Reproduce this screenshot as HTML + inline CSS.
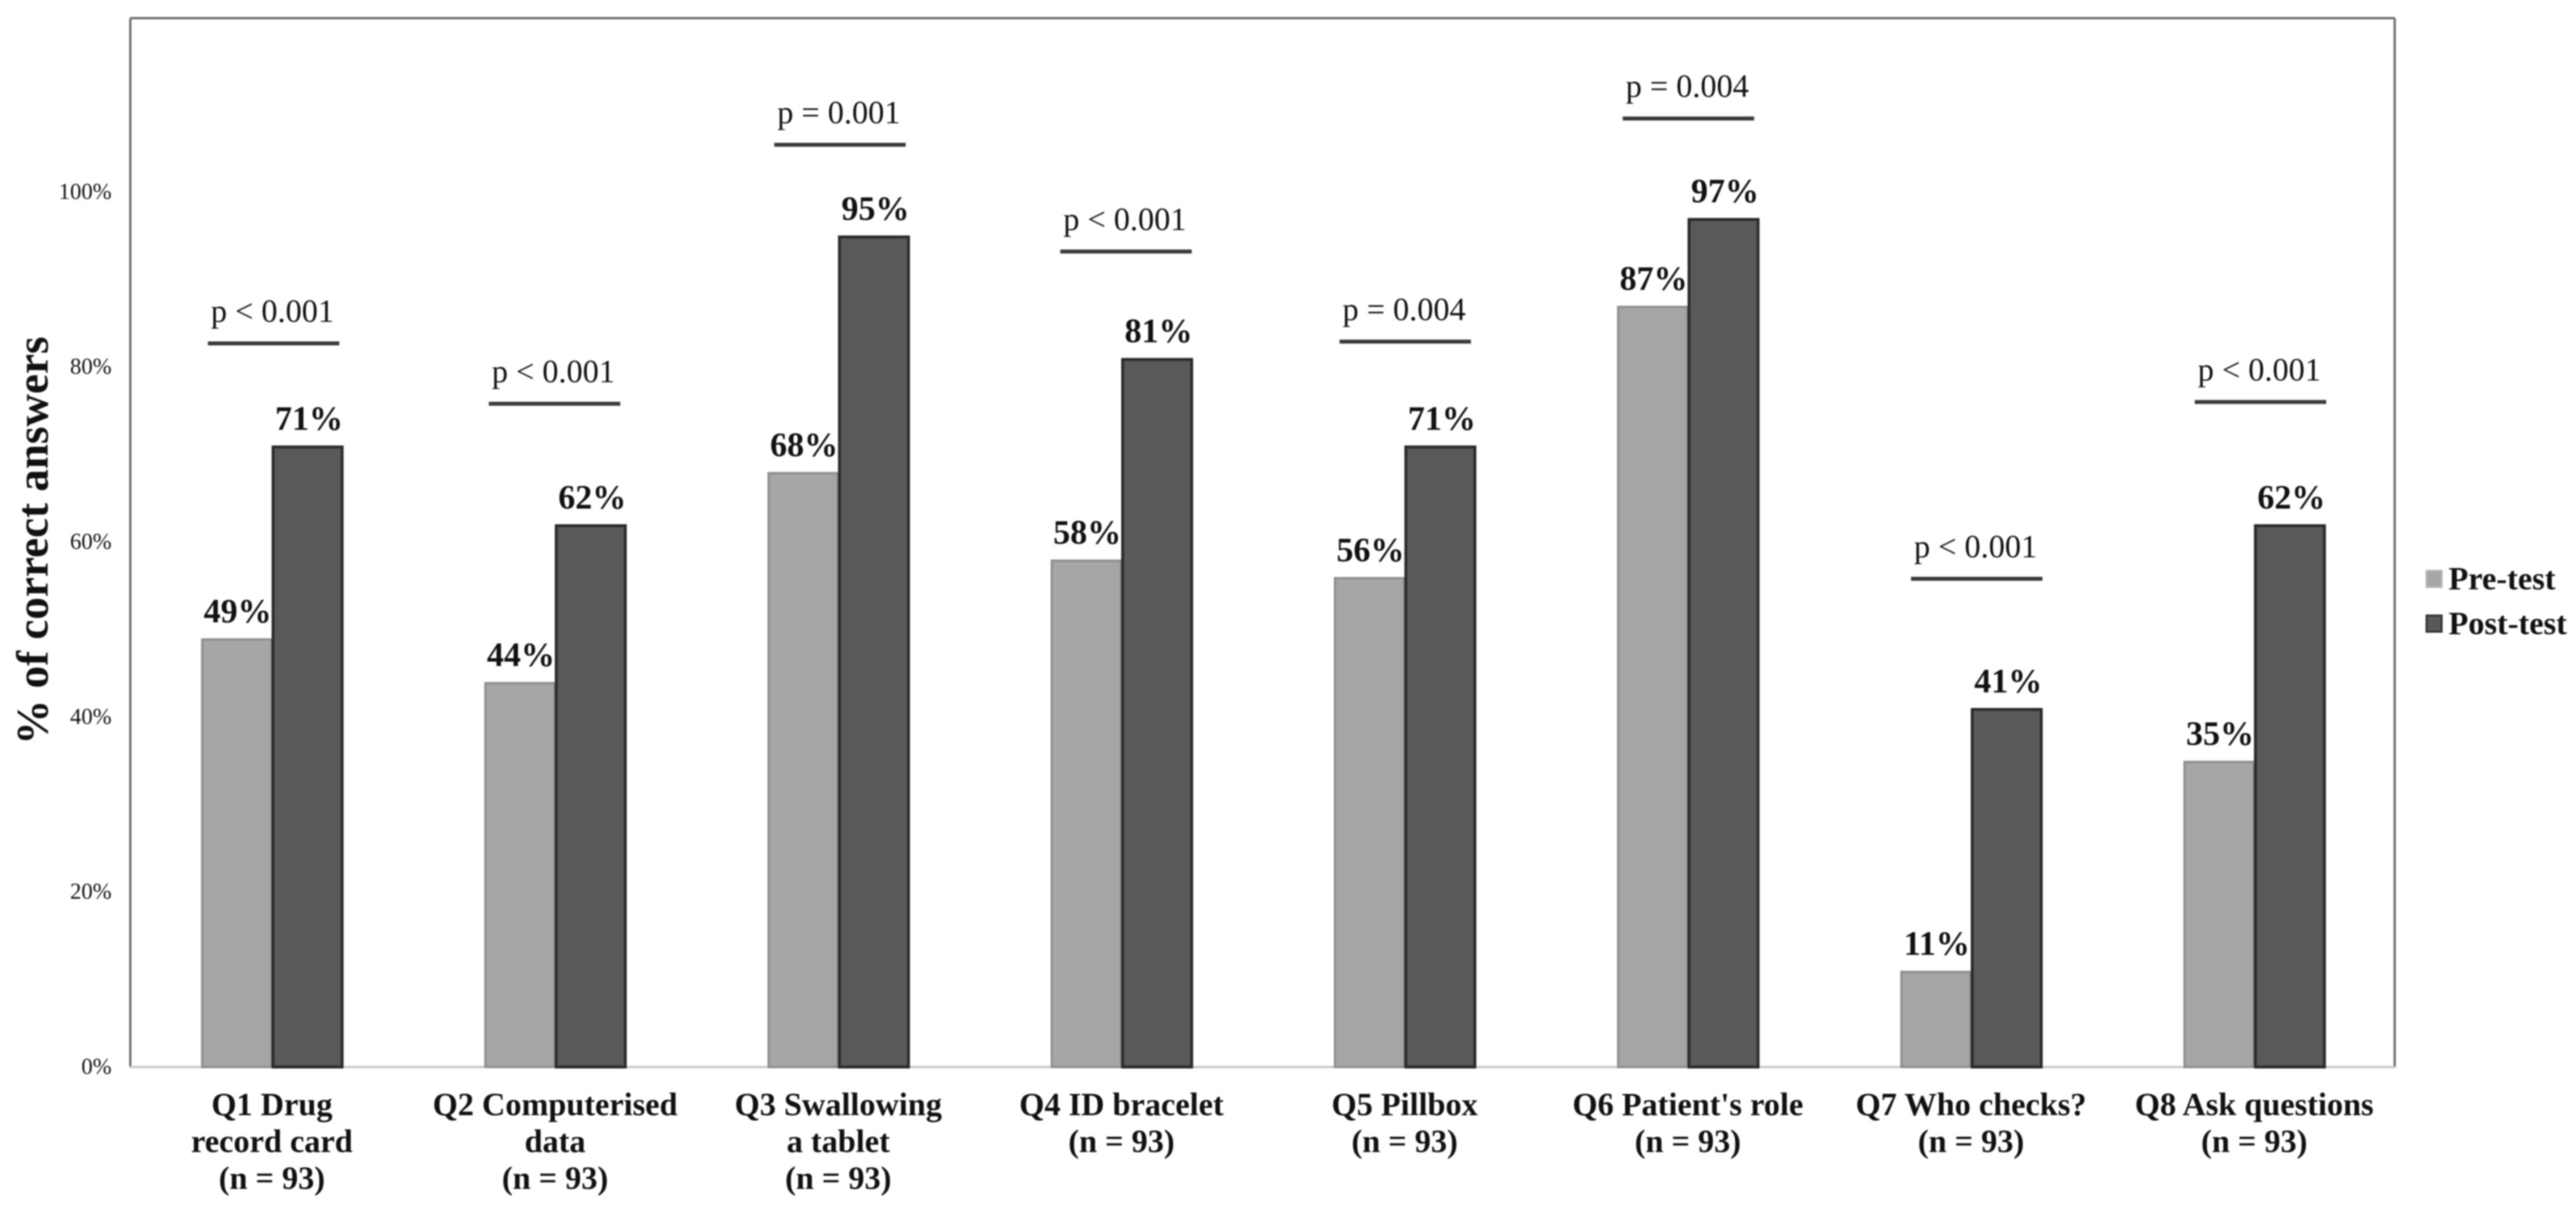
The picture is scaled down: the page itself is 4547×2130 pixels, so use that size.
<!DOCTYPE html>
<html>
<head>
<meta charset="utf-8">
<title>Correct answers pre-test and post-test</title>
<style>
html,body{margin:0;padding:0;background:#fff;width:4547px;height:2130px;overflow:hidden}
svg{display:block;filter:blur(1.2px)}
text{font-family:"Liberation Serif",serif;fill:#111}
</style>
</head>
<body>
<svg id="chart" xmlns="http://www.w3.org/2000/svg" width="4547" height="2130" viewBox="0 0 4547 2130"></svg>
<script>
const categories = [
  ["Q1 Drug", "record card", "(n = 93)"],
  ["Q2 Computerised", "data", "(n = 93)"],
  ["Q3 Swallowing", "a tablet", "(n = 93)"],
  ["Q4 ID bracelet", "(n = 93)"],
  ["Q5 Pillbox", "(n = 93)"],
  ["Q6 Patient's role", "(n = 93)"],
  ["Q7 Who checks?", "(n = 93)"],
  ["Q8 Ask questions", "(n = 93)"]
];
const preTest = [49, 44, 68, 58, 56, 87, 11, 35];
const postTest = [71, 62, 95, 81, 71, 97, 41, 62];
const pLabels = ["p < 0.001", "p < 0.001", "p = 0.001", "p < 0.001", "p = 0.004", "p = 0.004", "p < 0.001", "p < 0.001"];
const pLevels = [82.7, 75.8, 105.4, 93.2, 82.9, 108.4, 55.8, 76];
const yTicks = [0, 20, 40, 60, 80, 100];
const yMax = 120;

const NS = "http://www.w3.org/2000/svg";
const svg = document.getElementById("chart");
const plot = { left: 230, right: 4229, top: 30, bottom: 1883 };
const frame = { left: 230, right: 4227, top: 32, bottom: 1883 };
const barWidth = 125;

function yScale(v) {
  return plot.bottom - (v / yMax) * (plot.bottom - plot.top);
}
function xScale(i) {
  return plot.left + (i + 0.5) * (plot.right - plot.left) / categories.length;
}
/* hand-placed significance annotations sit slightly off the category centre */
function annotationNudge(i) {
  return [0, -4, 0, 5, -2, -2, 7, 8][i];
}
function make(tag, attrs, content) {
  const el = document.createElementNS(NS, tag);
  for (const k in attrs) el.setAttribute(k, attrs[k]);
  if (content !== undefined) el.textContent = content;
  svg.appendChild(el);
  return el;
}

/* plot frame */
const frameTop = make("line", { x1: frame.left, x2: frame.right, y1: frame.top, y2: frame.top, stroke: "#6b6b6b", "stroke-width": 4 });


const frameRight = make("line", { x1: frame.right, x2: frame.right, y1: frame.top, y2: frame.bottom, stroke: "#6b6b6b", "stroke-width": 4 });


const frameLeft = make("line", { x1: frame.left, x2: frame.left, y1: frame.top, y2: frame.bottom, stroke: "#6b6b6b", "stroke-width": 4 });


const xAxis = make("line", { x1: frame.left, x2: frame.right, y1: frame.bottom, y2: frame.bottom, stroke: "#c8c8c8", "stroke-width": 4 });



/* y ticks */
yTicks.forEach(function (t) {
  const tick = make("text", { x: 197, y: yScale(t) + 12, "text-anchor": "end", "font-size": 40, fill: "#222" }, t + "%");
  
  
});

/* y title */
const yTitle = make("text", { transform: "translate(84 954) rotate(-90)", "text-anchor": "middle", "font-size": 79.5, "font-weight": "bold", fill: "#222" }, "% of correct answers");



/* bars, labels, significance */
categories.forEach(function (lines, i) {
  const cx = xScale(i);

  const preTop = yScale(preTest[i]);
  const preBar = make("rect", { x: cx - barWidth + 2, y: preTop + 2, width: barWidth - 3, height: plot.bottom - preTop - 2, fill: "#a6a6a6", stroke: "#8e8e8e", "stroke-width": 4 });
  
  

  const postTop = yScale(postTest[i]);
  const postBar = make("rect", { x: cx + 2, y: postTop + 2, width: barWidth - 3, height: plot.bottom - postTop - 2, fill: "#595959", stroke: "#2a2a2a", "stroke-width": 5 });
  
  

  const preLabel = make("text", { x: cx - barWidth / 2 + 2, y: preTop - 28, "text-anchor": "middle", "font-size": 60, "font-weight": "bold", fill: "#000" }, preTest[i] + "%");
  
  

  const postLabel = make("text", { x: cx + barWidth / 2 + 3, y: postTop - 28, "text-anchor": "middle", "font-size": 60, "font-weight": "bold", fill: "#000" }, postTest[i] + "%");
  
  

  const bracketY = yScale(pLevels[i]);
  const nudge = annotationNudge(i);
  const bracket = make("line", { x1: cx - 113 + nudge, x2: cx + 119 + nudge, y1: bracketY, y2: bracketY, stroke: "#3a3a3a", "stroke-width": 7 });
  
  

  const pText = make("text", { x: cx + 1 + nudge, y: bracketY - 38, "text-anchor": "middle", "font-size": 57 }, pLabels[i]);
  
  

  lines.forEach(function (line, j) {
    const label = make("text", { x: cx, y: 1968 + j * 65, "text-anchor": "middle", "font-size": 57, "font-weight": "bold" }, line);
    
    
  });
});

/* legend */
const legendNames = ["Pre-test", "Post-test"];
const legendFills = ["#a6a6a6", "#595959"];
const legendStrokes = ["#b5b5b5", "#2a2a2a"];
legendNames.forEach(function (name, i) {
  const cy = 1021 + i * 79;
  const swatch = make("rect", { x: 4283, y: cy - 14, width: 27, height: 29, fill: legendFills[i], stroke: legendStrokes[i], "stroke-width": 3 });
  
  
  const text = make("text", { x: 4322, y: cy + 19, "font-size": 57, "font-weight": "bold" }, name);
  
  
});
</script>
</body>
</html>
